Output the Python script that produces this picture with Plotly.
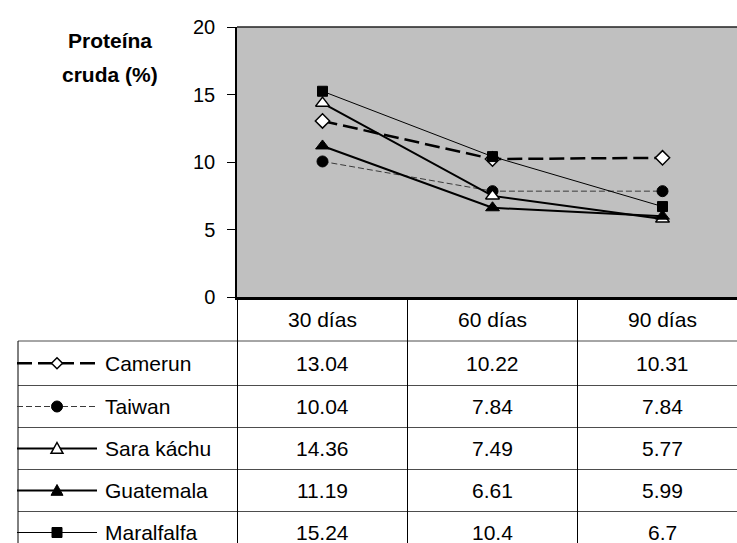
import plotly.graph_objects as go

# Crude protein (%) by cutting age for five grass varieties
periods = ["30 días", "60 días", "90 días"]
y_ticks = [0, 5, 10, 15, 20]

camerun = [13.04, 10.22, 10.31]
taiwan = [10.04, 7.84, 7.84]
sara_kachu = [14.36, 7.49, 5.77]
guatemala = [11.19, 6.61, 5.99]
maralfalfa = [15.24, 10.4, 6.7]

series_names = ["Camerun", "Taiwan", "Sara káchu", "Guatemala", "Maralfalfa"]
series_values = [camerun, taiwan, sara_kachu, guatemala, maralfalfa]

FONT = "Liberation Sans, Arial, sans-serif"
W, H = 737, 543
PL, PT, PB = 237, 27, 297          # plot-area edges in pixels
PW, PH = W - PL, PB - PT
COL_W = 170                          # width of one data-table column
Y_MAX = 20

# line / marker style for each series
styles = [
    dict(line=dict(color="black", width=2.5, dash="15px,6px"),
         marker=dict(symbol="diamond", size=11, color="white",
                     line=dict(color="black", width=1.5))),
    dict(line=dict(color="#3a3a3a", width=1, dash="6px,3px"),
         marker=dict(symbol="circle", size=11, color="black",
                     line=dict(color="black", width=1))),
    dict(line=dict(color="black", width=2),
         marker=dict(symbol="triangle-up", size=12, color="white",
                     line=dict(color="black", width=1.5))),
    dict(line=dict(color="black", width=2),
         marker=dict(symbol="triangle-up", size=12, color="black",
                     line=dict(color="black", width=1))),
    dict(line=dict(color="black", width=1),
         marker=dict(symbol="square", size=10, color="black",
                     line=dict(color="black", width=1))),
]

# category i is centred in data-table column i
x0 = -0.5 - 0.003
x1 = x0 + PW / COL_W


def xp(px):
    return (px - PL) / PW


def yp(py):
    return (PB - py) / PH


def key_marker(symbol, cx, cy, r, fill, lw):
    """Legend-key glyph drawn as a paper-referenced shape, centred at pixel (cx, cy)."""
    line = dict(color="black", width=lw)
    if symbol == "circle":
        return dict(type="circle", xref="paper", yref="paper",
                    x0=xp(cx - r), x1=xp(cx + r), y0=yp(cy + r), y1=yp(cy - r),
                    fillcolor=fill, line=line, layer="above")
    if symbol == "square":
        return dict(type="rect", xref="paper", yref="paper",
                    x0=xp(cx - r), x1=xp(cx + r), y0=yp(cy + r), y1=yp(cy - r),
                    fillcolor=fill, line=line, layer="above")
    if symbol == "diamond":
        pts = [(cx, cy - r), (cx + r, cy), (cx, cy + r), (cx - r, cy)]
    else:  # triangle-up
        pts = [(cx, cy - r), (cx + r, cy + r * 0.8), (cx - r, cy + r * 0.8)]
    path = "M " + " L ".join(f"{xp(a):.5f},{yp(b):.5f}" for a, b in pts) + " Z"
    return dict(type="path", xref="paper", yref="paper", path=path,
                fillcolor=fill, line=line, layer="above")


fig = go.Figure()
xs = list(range(len(periods)))
for name, vals, st in zip(series_names, series_values, styles):
    fig.add_trace(go.Scatter(x=xs, y=vals, name=name, mode="lines+markers",
                             line=st["line"], marker=st["marker"],
                             showlegend=False, hoverinfo="skip"))

shapes = []
annotations = []
line_col = "#4d4d4d"
FS = 21

# top border of the plot area
shapes.append(dict(type="line", xref="paper", yref="paper",
                   x0=0, x1=1, y0=1, y1=1, line=dict(color="#222", width=1.5)))

# data table grid
row_lines = [341, 385.5, 427.5, 469.5, 511.5]
for ry in row_lines:
    shapes.append(dict(type="line", xref="paper", yref="paper",
                       x0=xp(18), x1=xp(W + 5), y0=yp(ry), y1=yp(ry),
                       line=dict(color=line_col, width=1)))
for i in range(len(periods) + 1):
    cx = PL + 0.5 + i * COL_W
    shapes.append(dict(type="line", xref="paper", yref="paper",
                       x0=xp(cx), x1=xp(cx), y0=yp(PB), y1=yp(H + 5),
                       line=dict(color="black", width=1)))
shapes.append(dict(type="line", xref="paper", yref="paper",
                   x0=xp(18), x1=xp(18), y0=yp(341), y1=yp(H + 5),
                   line=dict(color="black", width=1)))

# column headers
for i, p in enumerate(periods):
    annotations.append(dict(xref="paper", yref="paper", x=xp(PL + COL_W * (i + 0.5)),
                            y=yp(319), text=p, showarrow=False,
                            font=dict(family=FONT, size=FS, color="black"),
                            xanchor="center", yanchor="middle"))

# rows: legend key + values
key_sizes = [5.5, 5.5, 6, 6, 5]
row_centres = [(row_lines[k] + (row_lines[k + 1] if k + 1 < len(row_lines) else 553.5)) / 2
               for k in range(len(row_lines))]
for k, (name, vals, st) in enumerate(zip(series_names, series_values, styles)):
    cy = row_centres[k]
    shapes.append(dict(type="line", xref="paper", yref="paper",
                       x0=xp(17), x1=xp(97), y0=yp(cy), y1=yp(cy),
                       line=st["line"]))
    mk = st["marker"]
    shapes.append(key_marker(mk["symbol"], 57, cy, key_sizes[k],
                             mk["color"], mk["line"]["width"]))
    annotations.append(dict(xref="paper", yref="paper", x=xp(103), y=yp(cy),
                            text=name, showarrow=False,
                            font=dict(family=FONT, size=FS, color="black"),
                            xanchor="left", yanchor="middle"))
    for i, v in enumerate(vals):
        annotations.append(dict(xref="paper", yref="paper",
                                x=xp(PL + COL_W * (i + 0.5)), y=yp(cy),
                                text=f"{v:g}", showarrow=False,
                                font=dict(family=FONT, size=FS, color="black"),
                                xanchor="center", yanchor="middle"))

# axis title (two lines)
for txt, ty in [("Proteína", 41), ("cruda (%)", 74)]:
    annotations.append(dict(xref="paper", yref="paper", x=xp(110), y=yp(ty),
                            text=f"<b>{txt}</b>", showarrow=False,
                            font=dict(family=FONT, size=21, color="black"),
                            xanchor="center", yanchor="middle"))

fig.update_layout(
    width=W, height=H,
    margin=dict(l=PL, r=0, t=PT, b=H - PB, pad=0),
    paper_bgcolor="white",
    plot_bgcolor="#c0c0c0",
    font=dict(family=FONT, color="black"),
    xaxis=dict(range=[x0, x1], showticklabels=False, ticks="",
               showgrid=False, zeroline=False, showline=True,
               linecolor="black", linewidth=2.5),
    yaxis=dict(range=[0, Y_MAX], tickvals=y_ticks, ticks="outside", ticklen=8,
               tickcolor="black", tickwidth=1, showgrid=False, zeroline=False,
               showline=True, linecolor="black", linewidth=1.5,
               tickfont=dict(family=FONT, size=20, color="black"),
               ticklabelstandoff=8),
    shapes=shapes,
    annotations=annotations,
)

fig.write_html("out.html")
